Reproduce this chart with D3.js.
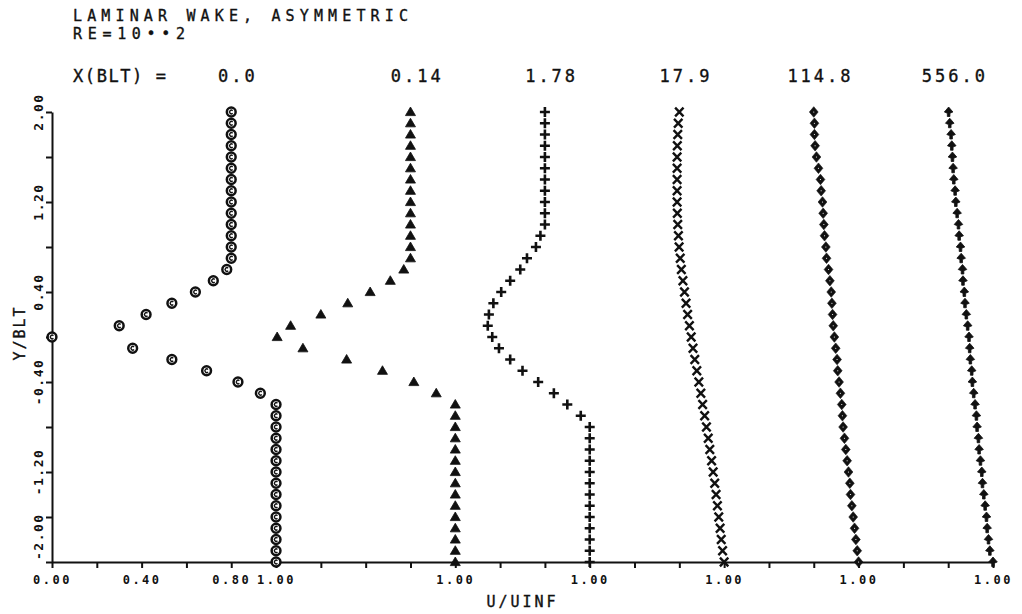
<!DOCTYPE html>
<html>
<head>
<meta charset="utf-8">
<title>Laminar wake, asymmetric</title>
<script src="https://d3js.org/d3.v7.min.js"></script>
<style>
    body { margin: 0; background: #fff; }
    svg { display: block; }
    .mono { font-family: "DejaVu Sans Mono", monospace; fill: #111; stroke: #111; stroke-width: 0.35px; }
    .tick-label { font-family: "DejaVu Sans Mono", monospace; font-weight: bold; font-size: 12px; fill: #111; }
</style>
</head>
<body>
<div id="chart"></div>
<script>
    // sample heights Y/BLT, top to bottom
    const yBlt = [2.0, 1.9, 1.8, 1.7, 1.6, 1.5, 1.4, 1.3, 1.2, 1.1, 1.0, 0.9, 0.8, 0.7, 0.6, 0.5, 0.4, 0.3, 0.2, 0.1, 0.0,
        -0.1, -0.2, -0.3, -0.4, -0.5, -0.6, -0.7, -0.8, -0.9, -1.0, -1.1, -1.2, -1.3, -1.4, -1.5, -1.6, -1.7, -1.8, -1.9, -2.0];

    // X(BLT) stations and the shift of each profile along the U/UINF axis
    const stations = ["0.0", "0.14", "1.78", "17.9", "114.8", "556.0"];
    const offsets = [0, 0.8, 1.4, 2.0, 2.6, 3.2];

    // U/UINF, one list per station
    const u00 = [0.80, 0.80, 0.80, 0.80, 0.80, 0.80, 0.80, 0.80, 0.80, 0.80, 0.80, 0.80, 0.80, 0.80,
        0.78, 0.72, 0.64, 0.535, 0.42, 0.30, 0.0, 0.36, 0.535, 0.69, 0.83, 0.93, 1.0,
        1.0, 1.0, 1.0, 1.0, 1.0, 1.0, 1.0, 1.0, 1.0, 1.0, 1.0, 1.0, 1.0, 1.0];
    const u014 = [0.80, 0.80, 0.80, 0.80, 0.80, 0.80, 0.80, 0.80, 0.80, 0.80, 0.80, 0.80, 0.80, 0.80,
        0.77, 0.71, 0.62, 0.52, 0.40, 0.265, 0.205, 0.32, 0.515, 0.675, 0.815, 0.915, 1.0,
        1.0, 1.0, 1.0, 1.0, 1.0, 1.0, 1.0, 1.0, 1.0, 1.0, 1.0, 1.0, 1.0, 1.0];
    const u178 = [0.80, 0.80, 0.80, 0.80, 0.80, 0.80, 0.80, 0.80, 0.80, 0.80, 0.80,
        0.78, 0.76, 0.72, 0.69, 0.645, 0.605, 0.57, 0.55, 0.545, 0.565, 0.595, 0.645, 0.70, 0.77, 0.84, 0.90, 0.96,
        1.0, 1.0, 1.0, 1.0, 1.0, 1.0, 1.0, 1.0, 1.0, 1.0, 1.0, 1.0, 1.0];
    const u179 = [0.800, 0.795, 0.793, 0.791, 0.790, 0.790, 0.790, 0.790, 0.790, 0.791, 0.793, 0.796, 0.799, 0.804,
        0.809, 0.816, 0.823, 0.830, 0.837, 0.845, 0.853, 0.861, 0.869, 0.878, 0.887, 0.896, 0.904, 0.913,
        0.921, 0.929, 0.936, 0.944, 0.951, 0.958, 0.964, 0.970, 0.976, 0.982, 0.987, 0.993, 1.000];
    const u1148 = [0.800, 0.803, 0.803, 0.806, 0.812, 0.821, 0.830, 0.833, 0.839, 0.842, 0.845, 0.848, 0.854, 0.857,
        0.866, 0.872, 0.878, 0.881, 0.884, 0.887, 0.892, 0.898, 0.904, 0.907, 0.913, 0.919, 0.925, 0.928,
        0.931, 0.937, 0.943, 0.949, 0.955, 0.961, 0.964, 0.970, 0.976, 0.982, 0.988, 0.994, 1.000];
    const u5560 = [0.802, 0.807, 0.813, 0.816, 0.819, 0.822, 0.825, 0.831, 0.834, 0.840, 0.846, 0.849, 0.855, 0.858,
        0.864, 0.866, 0.872, 0.875, 0.881, 0.887, 0.893, 0.896, 0.899, 0.905, 0.908, 0.914, 0.920, 0.926,
        0.929, 0.935, 0.938, 0.944, 0.950, 0.953, 0.959, 0.965, 0.971, 0.974, 0.980, 0.986, 1.000];
    const profiles = [u00, u014, u178, u179, u1148, u5560];

    // ticks
    const xTicks = [0, 0.2, 0.4, 0.6, 0.8, 1.0, 1.2, 1.4, 1.6, 1.8, 2.0, 2.2, 2.4, 2.6, 2.8, 3.0, 3.2, 3.4, 3.6, 3.8, 4.0, 4.2];
    const xLabelTicks = [0, 0.4, 0.8, 1.0, 1.8, 2.4, 3.0, 3.6, 4.2];
    const xLabels = ["0.00", "0.40", "0.80", "1.00", "1.00", "1.00", "1.00", "1.00", "1.00"];
    const yTicks = [2.0, 1.6, 1.2, 0.8, 0.4, 0.0, -0.4, -0.8, -1.2, -1.6, -2.0];
    const yLabelTicks = [2.0, 1.2, 0.4, -0.4, -1.2, -2.0];
    const yLabels = ["2.00", "1.20", "0.40", "-0.40", "-1.20", "-2.00"];

    const ink = "#111";
    const width = 1022, height = 614;

    const x = d3.scaleLinear().domain([0, 4.2]).range([52, 993]);
    const y = d3.scaleLinear().domain([-2, 2]).range([562, 112]);

    const svg = d3.select("#chart")
        .append("svg")
        .attr("width", width)
        .attr("height", height);

    // header
    svg.append("text").attr("class", "mono")
        .attr("x", 73).attr("y", 21)
        .attr("font-size", 15)
        .attr("textLength", 335).attr("lengthAdjust", "spacing")
        .text("LAMINAR WAKE, ASYMMETRIC");
    svg.append("text").attr("class", "mono")
        .attr("x", 73).attr("y", 39)
        .attr("font-size", 15)
        .attr("textLength", 112).attr("lengthAdjust", "spacing")
        .text("RE=10\u2022\u20222");
    svg.append("text").attr("class", "mono")
        .attr("x", 73).attr("y", 82)
        .attr("font-size", 17)
        .attr("textLength", 93).attr("lengthAdjust", "spacing")
        .text("X(BLT) =");

    svg.append("g")
        .selectAll("text")
        .data(stations)
        .join("text")
        .attr("class", "mono")
        .attr("font-size", 17)
        .attr("letter-spacing", 3)
        .attr("text-anchor", "middle")
        .attr("x", (d, i) => x(offsets[i] + 0.83))
        .attr("y", 82)
        .text(d => d);

    // axes
    const xLabel = v => {
        const i = xLabelTicks.findIndex(t => Math.abs(t - v) < 1e-6);
        return i < 0 ? "" : xLabels[i];
    };

    const xAxis = svg.append("g")
        .attr("transform", `translate(0,${y(-2)})`)
        .call(d3.axisBottom(x).tickValues(xTicks).tickSize(6).tickSizeOuter(0).tickFormat(xLabel));
    xAxis.selectAll("path, line").attr("stroke", ink).attr("stroke-width", 2);
    xAxis.selectAll("text")
        .attr("class", "tick-label")
        .attr("letter-spacing", 2.5)
        .attr("dy", "1.1em");
    xAxis.attr("font-size", null).attr("font-family", null);

    const yAxis = svg.append("g")
        .attr("transform", `translate(${x(0)},0)`)
        .call(d3.axisLeft(y).tickValues(yTicks).tickSize(6).tickSizeOuter(0).tickFormat(""));
    yAxis.selectAll("path, line").attr("stroke", ink).attr("stroke-width", 2);

    svg.append("g")
        .selectAll("text")
        .data(yLabelTicks)
        .join("text")
        .attr("class", "tick-label")
        .style("font-size", "13px")
        .attr("letter-spacing", 1.5)
        .attr("text-anchor", (d, i) => i === yLabelTicks.length - 1 ? "start" : "middle")
        .attr("transform", (d, i) => `translate(43,${i === yLabelTicks.length - 1 ? y(d) - 2 : y(d)}) rotate(-90)`)
        .text((d, i) => yLabels[i]);

    svg.append("text").attr("class", "mono")
        .attr("font-size", 15).attr("letter-spacing", 3)
        .attr("text-anchor", "middle")
        .attr("x", (x(0) + x(4.2)) / 2).attr("y", 607)
        .text("U/UINF");

    svg.append("text").attr("class", "mono")
        .attr("font-size", 15).attr("letter-spacing", 2)
        .attr("text-anchor", "middle")
        .attr("transform", `translate(25,${y(0) - 4}) rotate(-90)`)
        .text("Y/BLT");

    // plotter symbols, one per station
    const markers = [
        g => {
            g.append("circle").attr("r", 4.4).attr("fill", "#fff").attr("stroke", ink).attr("stroke-width", 2.5);
            g.append("path").attr("d", "M1.4,-1.3 A1.8,1.8 0 1 0 1.4,1.3")
                .attr("fill", "none").attr("stroke", ink).attr("stroke-width", 1.4);
        },
        g => g.append("path").attr("d", "M0,-5 L5,3.6 L-5,3.6 Z").attr("fill", ink)
            .attr("stroke", ink).attr("stroke-width", 0.8).attr("stroke-linejoin", "round"),
        g => g.append("path").attr("d", "M-5,0 H5 M0,-5 V5").attr("stroke", ink).attr("stroke-width", 2.6),
        g => g.append("path").attr("d", "M-4.2,-4.3 L4.2,4.3 M4.2,-4.3 L-4.2,4.3").attr("stroke", ink).attr("stroke-width", 2.4),
        g => {
            g.append("path").attr("d", "M0,-5.3 L4.4,0 L0,5.3 L-4.4,0 Z").attr("fill", ink)
                .attr("stroke", ink).attr("stroke-width", 0.6).attr("stroke-linejoin", "round");
            g.append("circle").attr("r", 0.6).attr("fill", "#fff");
        },
        g => g.append("path").attr("d", "M0,-5 L4.3,0 L1.3,1.2 L1.3,4.5 L-1.3,4.5 L-1.3,1.2 L-4.3,0 Z")
            .attr("fill", ink).attr("stroke", ink).attr("stroke-width", 0.8).attr("stroke-linejoin", "round")
    ];

    profiles.forEach((u, k) => {
        svg.append("g")
            .selectAll("g")
            .data(yBlt.map((yv, i) => ({ y: yv, u: u[i] })))
            .join("g")
            .attr("transform", d => `translate(${x(d.u + offsets[k])},${y(d.y)})`)
            .each(function () { markers[k](d3.select(this)); });
    });
</script>
</body>
</html>
